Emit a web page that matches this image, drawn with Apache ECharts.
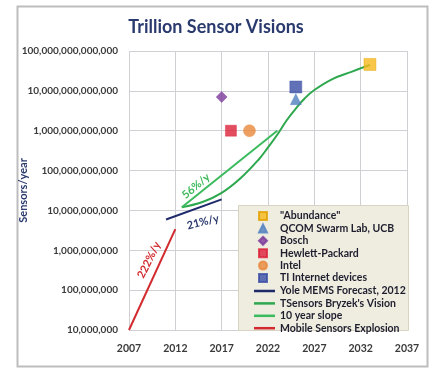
<!DOCTYPE html>
<html><head><meta charset="utf-8">
<script src="https://cdn.jsdelivr.net/npm/echarts@6/dist/echarts.min.js"></script>
<style>html,body{margin:0;padding:0;background:#fff}#c{width:432px;height:368px}</style>
</head><body><div id="c"></div>
<script>
// ---- data ----
const xTickYears = [2007, 2012, 2017, 2022, 2027, 2032, 2037];
const yTicks = [1e7, 1e8, 1e9, 1e10, 1e11, 1e12, 1e13, 1e14];
const pointNames = ['"Abundance"', 'QCOM Swarm Lab, UCB', 'Bosch', 'Hewlett-Packard', 'Intel', 'TI Internet devices'];
const pointYears = [2033, 2025, 2017, 2018, 2020, 2025];
const pointValues = [4.6e13, 6.2e12, 7.0e12, 1.0e12, 1.0e12, 1.25e13];
const yoleYears = [2011, 2017];
const yoleValues = [5.9e9, 1.9e10];
const visionYears = [2012.7, 2015, 2017, 2019, 2021, 2022, 2023, 2024, 2025, 2026, 2027, 2029, 2031, 2033];
const visionValues = [1.2e10, 1.65e10, 2.75e10, 6.3e10, 1.9e11, 3.8e11, 7.9e11, 1.8e12, 3.6e12, 6.6e12, 1.05e13, 2.0e13, 3.0e13, 4.5e13];
const slopeYears = [2012.7, 2023];
const slopeValues = [1.2e10, 1.0e12];
const mobileYears = [2007, 2012];
const mobileValues = [1.0e7, 3.4e9];

const X0 = 2007;
const pts = (ys, vs) => ys.map((y, i) => [y - X0, vs[i]]);

const pointStyles = [
  {symbol: 'rect', size: 12, color: '#f6b81a', border: '#e0a000'},
  {symbol: 'triangle', size: 11, color: '#4f7fbf', border: '#4f7fbf'},
  {symbol: 'diamond', size: 11, color: '#7a3a9a', border: '#7a3a9a'},
  {symbol: 'rect', size: 11, color: '#dc2038', border: '#dc2038'},
  {symbol: 'circle', size: 12, color: '#e8883a', border: '#e8883a'},
  {symbol: 'rect', size: 12, color: '#3a4ea6', border: '#3a4ea6'}
];

const series = [];
pointNames.forEach((n, i) => {
  const s = pointStyles[i];
  series.push({
    name: n, type: 'scatter', symbol: s.symbol, symbolSize: s.size,
    itemStyle: {color: s.color, borderColor: s.border, borderWidth: 0.5},
    data: pts([pointYears[i]], [pointValues[i]]), z: 5
  });
});
const lineDefs = [
  {name: 'Yole MEMS Forecast, 2012', ys: yoleYears, vs: yoleValues, color: '#1f2a6b', smooth: false},
  {name: "TSensors Bryzek's Vision", ys: visionYears, vs: visionValues, color: '#2ea84e', smooth: 0.4},
  {name: '10 year slope', ys: slopeYears, vs: slopeValues, color: '#3cbb5e', smooth: false},
  {name: 'Mobile Sensors Explosion', ys: mobileYears, vs: mobileValues, color: '#d22a2e', smooth: false}
];
lineDefs.forEach(d => {
  series.push({
    name: d.name, type: 'line', symbol: 'none', smooth: d.smooth,
    lineStyle: {color: d.color, width: 2}, itemStyle: {color: d.color},
    data: pts(d.ys, d.vs), z: 4
  });
});

const FONT = 'Lato';
const chart = echarts.init(document.getElementById('c'), null, {renderer: 'canvas'});
const legendText = {color: '#1e1e2e', fontSize: 10.5, fontWeight: 'bold', fontFamily: FONT, lineHeight: 12};
chart.setOption({
  animation: false,
  backgroundColor: '#fff',
  title: {
    text: 'Trillion Sensor Visions', left: 'center', top: 13,
    textStyle: {color: '#2b3a6e', fontSize: 18, fontWeight: 'bold', fontFamily: FONT}
  },
  grid: {left: 129, right: 25, top: 51, bottom: 38, containLabel: false, outerBoundsMode: 'none'},
  xAxis: {
    type: 'value', min: 0, max: 30, interval: 5,
    axisLine: {show: false}, axisTick: {show: false},
    splitLine: {show: true, lineStyle: {color: '#cfcfd4', width: 1}},
    axisLabel: {formatter: v => String(v + X0), color: '#3a3a3a', fontSize: 10.5, fontWeight: 'bold', fontFamily: FONT, margin: 13}
  },
  yAxis: {
    type: 'log', logBase: 10, min: yTicks[0], max: yTicks[yTicks.length - 1],
    name: 'Sensors/year', nameLocation: 'middle', nameGap: 100, nameRotate: 90, nameMoveOverlap: false,
    nameTextStyle: {color: '#2b3a6e', fontSize: 11, fontWeight: 'bold', fontFamily: FONT},
    axisLine: {show: false}, axisTick: {show: false},
    splitLine: {show: true, lineStyle: {color: '#cfcfd4', width: 1}},
    axisLabel: {formatter: v => Math.round(v).toLocaleString('en-US'), color: '#3a3a3a', fontSize: 10, fontWeight: 'bold', fontFamily: FONT, margin: 11}
  },
  legend: [
    {
      data: pointNames, orient: 'vertical', left: 253, top: 205, itemWidth: 8, itemHeight: 8, itemGap: 0.4,
      textStyle: Object.assign({}, legendText, {padding: [0, 0, 0, 8]}), selectedMode: false
    },
    {
      data: lineDefs.map(d => ({name: d.name, icon: 'rect'})), orient: 'vertical', left: 249, top: 280, itemWidth: 21, itemHeight: 2.5, itemGap: 0.4,
      textStyle: legendText, selectedMode: false
    }
  ],
  graphic: [
    {type: 'rect', left: 238, top: 205, shape: {width: 170, height: 125}, style: {fill: '#efece0', stroke: '#d8d4c4', lineWidth: 1}, z: 1},
    {type: 'rect', left: 15, top: 4, shape: {width: 410, height: 360}, style: {fill: 'none', stroke: '#bdbdbd', lineWidth: 2}, z: 0},
    {type: 'text', x: 149, y: 260, rotation: 64 * Math.PI / 180, style: {text: '222%/y', fill: '#d22a2e', font: 'bold 11px Lato', align: 'center', verticalAlign: 'middle'}, z: 10},
    {type: 'text', x: 196, y: 186, rotation: 40 * Math.PI / 180, style: {text: '56%/y', fill: '#3cb85a', font: 'bold 11px Lato', align: 'center', verticalAlign: 'middle'}, z: 10},
    {type: 'text', x: 203, y: 222, rotation: 14 * Math.PI / 180, style: {text: '21%/y', fill: '#2b3a6e', font: 'bold 11px Lato', align: 'center', verticalAlign: 'middle'}, z: 10}
  ],
  series: series
});
</script></body></html>
